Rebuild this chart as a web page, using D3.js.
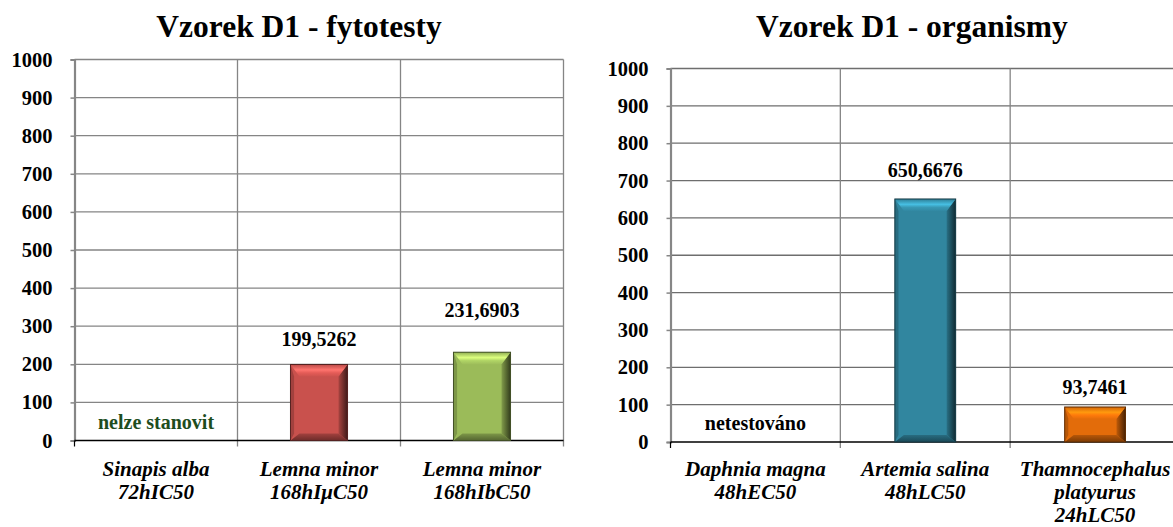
<!DOCTYPE html>
<html>
<head>
<meta charset="utf-8">
<script src="https://cdn.jsdelivr.net/npm/d3@7"></script>
<style>
  body { margin: 0; background: #fff; }
  svg { display: block; font-family: "Liberation Serif", "Times New Roman", serif; }
</style>
</head>
<body>
<svg id="chart" width="1173" height="527"></svg>
<script>
// data
var fytoTitle = "Vzorek D1 - fytotesty";
var fytoCategories = [["Sinapis alba", "72hIC50"], ["Lemna minor", "168hIμC50"], ["Lemna minor", "168hIbC50"]];
var fytoValues = [null, 199.5262, 231.6903];
var fytoNotes = ["nelze stanovit", null, null];
var fytoColors = ["#c0504d", "#c9514d", "#9bbb59"];

var orgTitle = "Vzorek D1 - organismy";
var orgCategories = [["Daphnia magna", "48hEC50"], ["Artemia salina", "48hLC50"], ["Thamnocephalus", "platyurus", "24hLC50"]];
var orgValues = [null, 650.6676, 93.7461];
var orgNotes = ["netestováno", null, null];
var orgColors = ["#31869f", "#31869f", "#e36c0a"];

var yDomain = [0, 1000];

var svg = d3.select("#chart");
var defs = svg.append("defs");
var fmt = function(v) { return d3.format(".4f")(v).replace(".", ","); };

// excel-like bevelled bar
function bevelBar(g, x, y, w, h, base, id) {
  var c = d3.color(base);
  var bt = Math.min(12, h / 3), bs = Math.min(9, w / 6), bb = Math.min(7, h / 4);
  var tg = defs.append("linearGradient").attr("id", "top" + id).attr("x1", 0).attr("y1", 0).attr("x2", 0).attr("y2", 1);
  tg.append("stop").attr("offset", "0%").attr("stop-color", c.darker(0.2));
  tg.append("stop").attr("offset", "45%").attr("stop-color", c.brighter(1.0));
  tg.append("stop").attr("offset", "70%").attr("stop-color", c.brighter(0.35));
  tg.append("stop").attr("offset", "100%").attr("stop-color", c.brighter(0.05));
  var rg = defs.append("linearGradient").attr("id", "rt" + id).attr("x1", 0).attr("y1", 0).attr("x2", 1).attr("y2", 0);
  rg.append("stop").attr("offset", "0%").attr("stop-color", c.darker(0.5));
  rg.append("stop").attr("offset", "100%").attr("stop-color", c.darker(3.2));
  var bg = defs.append("linearGradient").attr("id", "bt" + id).attr("x1", 0).attr("y1", 0).attr("x2", 0).attr("y2", 1);
  bg.append("stop").attr("offset", "0%").attr("stop-color", c.darker(0.6));
  bg.append("stop").attr("offset", "100%").attr("stop-color", c.darker(1.7));

  g.append("rect").attr("x", x).attr("y", y).attr("width", w).attr("height", h).attr("fill", c);
  var poly = function(pts, fill) {
    g.append("polygon").attr("points", pts.map(function(p) { return p.join(","); }).join(" ")).attr("fill", fill);
  };
  poly([[x, y + h], [x + w, y + h], [x + w - bs, y + h - bb], [x + bs, y + h - bb]], "url(#bt" + id + ")");
  poly([[x, y], [x + bs * 0.4, y + bt], [x + bs * 0.4, y + h - bb], [x, y + h]], c.darker(0.6));
  poly([[x + w, y], [x + w - bs, y + bt], [x + w - bs, y + h - bb], [x + w, y + h]], "url(#rt" + id + ")");
  poly([[x, y], [x + w, y], [x + w - bs, y + bt], [x + bs, y + bt]], "url(#top" + id + ")");
  g.append("rect").attr("x", x).attr("y", y).attr("width", w).attr("height", h)
    .attr("fill", "none").attr("stroke", c.darker(2.4)).attr("stroke-width", 1);
}

function drawChart(o) {
  var g = svg.append("g");
  var x = d3.scaleBand().domain(d3.range(o.cats.length)).range([o.left, o.right]).padding(0);
  var y = d3.scaleLinear().domain(yDomain).range([o.bottom, o.top]);
  var ticks = y.ticks(10);

  g.append("text").attr("x", o.titleX).attr("y", 37).attr("text-anchor", "middle")
    .attr("font-size", 31.5).attr("font-weight", "bold").text(o.title);

  // grid
  g.selectAll(".hgrid").data(ticks.filter(function(t) { return t > 0; })).enter().append("line")
    .attr("x1", o.left).attr("x2", o.right).attr("y1", function(d) { return y(d); }).attr("y2", function(d) { return y(d); })
    .attr("stroke", o.grid).attr("stroke-width", 1.3);
  g.selectAll(".vgrid").data(d3.range(1, o.cats.length + 1)).enter().append("line")
    .attr("x1", function(i) { return o.left + i * x.step(); }).attr("x2", function(i) { return o.left + i * x.step(); })
    .attr("y1", o.top).attr("y2", o.bottom + 6)
    .attr("stroke", "#858585").attr("stroke-width", 1.3);

  // y axis
  var ya = g.append("g").attr("transform", "translate(" + o.left + ",0)")
    .call(d3.axisLeft(y).tickValues(ticks).tickSize(4).tickPadding(18).tickFormat(d3.format("d")));
  ya.select(".domain").attr("stroke", "#868686").attr("stroke-width", 2.2);
  ya.selectAll(".tick line").attr("stroke", "#868686").attr("stroke-width", 1.5);
  ya.selectAll(".tick text").attr("font-family", "Liberation Serif, serif").attr("font-size", 20.5)
    .attr("font-weight", "bold").attr("fill", "#000");

  // x axis
  g.append("line").attr("x1", o.left).attr("x2", o.right).attr("y1", o.bottom).attr("y2", o.bottom)
    .attr("stroke", "#000").attr("stroke-width", 1.6);
  g.append("line").attr("x1", o.left).attr("x2", o.left).attr("y1", o.bottom).attr("y2", o.bottom + 6)
    .attr("stroke", "#000").attr("stroke-width", 1.2);

  // bars
  var bw = x.bandwidth() * o.barRatio;
  o.values.forEach(function(v, i) {
    var cx = x(i) + x.bandwidth() / 2;
    if (v == null) {
      g.append("text").attr("x", cx).attr("y", o.bottom - 12).attr("text-anchor", "middle")
        .attr("font-size", 20).attr("font-weight", "bold").attr("fill", o.noteColor).text(o.notes[i]);
      return;
    }
    bevelBar(g, cx - bw / 2, y(v), bw, o.bottom - y(v), o.colors[i], o.id + i);
    g.append("text").attr("x", cx).attr("y", y(v) - o.labelLift[i]).attr("text-anchor", "middle")
      .attr("font-size", 20).attr("font-weight", "bold").text(fmt(v));
  });

  // category labels
  o.cats.forEach(function(lines, i) {
    var t = g.append("text").attr("x", x(i) + x.bandwidth() / 2).attr("y", o.bottom + o.catDy)
      .attr("text-anchor", "middle").attr("font-size", 21).attr("font-weight", "bold").attr("font-style", "italic");
    lines.forEach(function(l, k) {
      t.append("tspan").attr("x", x(i) + x.bandwidth() / 2).attr("dy", k === 0 ? 0 : o.lineH).text(l);
    });
  });
}

drawChart({
  id: "f", title: fytoTitle, titleX: 299, cats: fytoCategories, values: fytoValues, notes: fytoNotes,
  colors: fytoColors, noteColor: "#1e4d1e", grid: "#858585", catDy: 35, lineH: 23.5,
  left: 74.5, right: 563.5, top: 59.5, bottom: 440.5, barRatio: 0.35, labelLift: [0, 18, 35]
});
drawChart({
  id: "o", title: orgTitle, titleX: 912, cats: orgCategories, values: orgValues, notes: orgNotes,
  colors: orgColors, noteColor: "#000", grid: "#6e6e6e", catDy: 33.5, lineH: 23.2,
  left: 670.5, right: 1180, top: 68.5, bottom: 442, barRatio: 0.358, labelLift: [0, 22, 13]
});
</script>
</body>
</html>
